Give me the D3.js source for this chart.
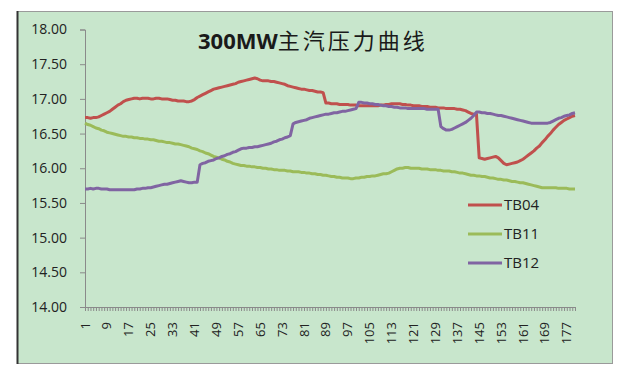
<!DOCTYPE html>
<html>
<head>
<meta charset="utf-8">
<script src="https://cdn.jsdelivr.net/npm/d3@7"></script>
<style>
    body { margin: 0; background: #fff; }
    svg { display: block; }
</style>
</head>
<body>
<div id="chart"></div>
<script>
    // category axis 1..180, labels every 8th
    const categories = d3.range(1, 181);
    const tickLabels = [1, 9, 17, 25, 33, 41, 49, 57, 65, 73, 81, 89, 97, 105, 113, 121, 129, 137, 145, 153, 161, 169, 177];
    const yTicks = [14, 14.5, 15, 15.5, 16, 16.5, 17, 17.5, 18];
    const seriesNames = ['TB04', 'TB11', 'TB12'];

    const tb04 = [
        16.73, 16.73, 16.72, 16.73, 16.73,
        16.74, 16.76, 16.78, 16.80, 16.82, 16.85, 16.88, 16.91, 16.93, 16.96, 16.98, 16.99,
        17.00, 17.01, 17.01, 17.00, 17.01, 17.01, 17.01, 17.00, 17.00, 17.01, 17.01, 17.00, 17.00, 17.00,
        16.99, 16.98, 16.98, 16.97, 16.97, 16.97, 16.96, 16.96, 16.97, 16.99,
        17.02, 17.04, 17.06, 17.08, 17.10, 17.12, 17.14,
        17.15, 17.16, 17.17, 17.18, 17.19, 17.20,
        17.21, 17.22, 17.24, 17.25, 17.26, 17.27, 17.28, 17.29, 17.30,
        17.29, 17.27, 17.26, 17.26, 17.26, 17.25, 17.25, 17.24, 17.23,
        17.22, 17.21, 17.19, 17.18, 17.17, 17.16, 17.15, 17.14, 17.14, 17.13, 17.12, 17.12, 17.11, 17.10, 17.10, 17.09,
        16.94, 16.94, 16.93, 16.93, 16.93, 16.92, 16.92, 16.92, 16.92, 16.91, 16.91, 16.91, 16.90, 16.90, 16.90, 16.90, 16.90, 16.90, 16.90, 16.90,
        16.91, 16.91, 16.92, 16.92, 16.93, 16.93, 16.93, 16.93, 16.92, 16.92, 16.91, 16.91, 16.90,
        16.90, 16.90, 16.89, 16.89, 16.89, 16.88, 16.88, 16.88, 16.87, 16.87, 16.87, 16.86, 16.86, 16.86, 16.86, 16.85, 16.85,
        16.84, 16.83, 16.81, 16.79, 16.78, 16.78,
        16.15, 16.14, 16.13, 16.14, 16.15, 16.16,
        16.17, 16.15, 16.11, 16.07, 16.05,
        16.06, 16.07, 16.08, 16.09, 16.11, 16.13, 16.16,
        16.19, 16.22, 16.25, 16.29, 16.32,
        16.37, 16.41, 16.46, 16.50, 16.55,
        16.59, 16.63, 16.66, 16.69, 16.71, 16.73, 16.75, 16.76
    ];

    const tb11 = [
        16.65, 16.63, 16.62, 16.60, 16.58, 16.57, 16.55, 16.54, 16.52, 16.51, 16.50, 16.49,
        16.48, 16.47, 16.46, 16.46, 16.45, 16.45, 16.44, 16.44, 16.43, 16.43, 16.42, 16.42,
        16.41, 16.41, 16.40, 16.39, 16.39, 16.38, 16.37, 16.37, 16.36, 16.35, 16.35, 16.34,
        16.33, 16.32, 16.31, 16.29, 16.28, 16.27, 16.25, 16.24, 16.22, 16.21, 16.19, 16.17,
        16.16, 16.15, 16.13, 16.12, 16.10, 16.09, 16.07, 16.06, 16.05, 16.04, 16.04, 16.03,
        16.03, 16.02, 16.02, 16.01, 16.01, 16.00, 16.00, 15.99, 15.99, 15.98, 15.98, 15.97,
        15.97, 15.97, 15.96, 15.96, 15.95, 15.95, 15.95, 15.94, 15.94, 15.93, 15.93, 15.92,
        15.92, 15.91, 15.91, 15.90, 15.90, 15.89, 15.88, 15.88, 15.87, 15.87, 15.86, 15.86,
        15.86, 15.85, 15.85, 15.86, 15.86, 15.87, 15.87, 15.88, 15.88, 15.89, 15.89, 15.90,
        15.91, 15.92, 15.92, 15.93, 15.95, 15.97, 15.99, 16.00, 16.00, 16.01, 16.01, 16.00,
        16.00, 16.00, 16.00, 15.99, 15.99, 15.99, 15.98, 15.98, 15.98, 15.97, 15.97, 15.96,
        15.96, 15.96, 15.95, 15.95, 15.94, 15.93, 15.93, 15.92, 15.91, 15.90, 15.90, 15.89,
        15.89, 15.88, 15.88, 15.87, 15.86, 15.86, 15.85, 15.84, 15.84, 15.83, 15.83, 15.82,
        15.81, 15.81, 15.80, 15.79, 15.79, 15.78, 15.77, 15.76, 15.75, 15.74, 15.73, 15.72,
        15.72, 15.72, 15.72, 15.72, 15.72, 15.71, 15.71, 15.71, 15.71, 15.70, 15.70, 15.70
    ];

    const tb12 = [
        15.70, 15.70, 15.71, 15.70, 15.71, 15.71, 15.70, 15.70, 15.70, 15.69, 15.69, 15.69,
        15.69, 15.69, 15.69, 15.69, 15.69, 15.69, 15.69, 15.70, 15.70, 15.71, 15.71, 15.72,
        15.72, 15.73, 15.74, 15.75, 15.76, 15.77, 15.77, 15.78, 15.79, 15.80, 15.81, 15.82,
        15.81, 15.80, 15.79, 15.79, 15.80, 15.80,
        16.05, 16.07, 16.08, 16.10, 16.11, 16.12,
        16.14, 16.15, 16.17, 16.18, 16.20, 16.21, 16.23, 16.24, 16.26, 16.28, 16.29, 16.29,
        16.30, 16.30, 16.31, 16.31, 16.32, 16.33, 16.34, 16.35, 16.36, 16.38, 16.39, 16.41,
        16.42, 16.44, 16.45, 16.47,
        16.64, 16.66, 16.67, 16.68, 16.69, 16.70, 16.72, 16.73, 16.74, 16.75, 16.76, 16.77,
        16.78, 16.78, 16.79, 16.80, 16.80, 16.81, 16.82, 16.82, 16.83, 16.84, 16.85, 16.86,
        16.95, 16.95, 16.94, 16.94, 16.93, 16.93, 16.92, 16.92, 16.91, 16.90, 16.90, 16.89,
        16.89, 16.88, 16.88, 16.87, 16.87, 16.87, 16.86, 16.86, 16.86, 16.86, 16.86, 16.86,
        16.86, 16.85, 16.85, 16.85, 16.85, 16.85,
        16.60, 16.57, 16.55, 16.55, 16.56, 16.58, 16.60, 16.62, 16.64, 16.66, 16.69, 16.72,
        16.76, 16.81, 16.81, 16.80, 16.80, 16.79, 16.79, 16.78, 16.77, 16.76, 16.76, 16.75,
        16.74, 16.73, 16.72, 16.71, 16.70, 16.69, 16.68, 16.67, 16.66, 16.65, 16.65, 16.65,
        16.65, 16.65, 16.65, 16.65, 16.66, 16.68, 16.70, 16.72, 16.73, 16.75, 16.76, 16.77, 16.79, 16.80
    ];

    const colors = ['#c0504d', '#9bbb59', '#8064a2'];
    const seriesValues = [tb04, tb11, tb12];

    const W = 626, H = 381;
    const plot = {left: 85, right: 575, top: 29.5, bottom: 307};
    const labelFont = '"Open Sans", "Liberation Sans", sans-serif';

    const svg = d3.select('#chart')
        .append('svg')
        .attr('width', W)
        .attr('height', H);

    svg.append('rect')
        .attr('width', W).attr('height', H)
        .attr('fill', '#fff');

    // chart area frame
    svg.append('rect')
        .attr('x', 17.5).attr('y', 11.5)
        .attr('width', 595).attr('height', 352)
        .attr('fill', '#c8e6cc')
        .attr('stroke', '#9a9a9a');
    svg.append('line')
        .attr('x1', 17.5).attr('x2', 17.5)
        .attr('y1', 11).attr('y2', 364)
        .attr('stroke', '#333')
        .attr('stroke-width', 2);

    const x = d3.scalePoint()
        .domain(categories)
        .range([plot.left, plot.right]);

    const y = d3.scaleLinear()
        .domain([14, 18])
        .range([plot.bottom, plot.top]);

    // y axis
    const yAxis = svg.append('g')
        .attr('transform', `translate(${plot.left},0)`)
        .call(d3.axisLeft(y)
            .tickValues(yTicks)
            .tickFormat(d3.format('.2f'))
            .tickSize(5)
            .tickPadding(13));
    yAxis.select('.domain').attr('stroke', '#8a8a8a');
    yAxis.selectAll('.tick line').attr('stroke', '#8a8a8a');
    yAxis.selectAll('.tick text')
        .attr('fill', '#222')
        .style('font-family', labelFont)
        .style('font-size', '14px');

    // x axis: a tick at every category, labels every 8th
    const xAxis = svg.append('g')
        .attr('transform', `translate(0,${plot.bottom})`)
        .call(d3.axisBottom(x)
            .tickSize(4)
            .tickSizeOuter(0)
            .tickFormat(''));
    xAxis.select('.domain').attr('stroke', '#8a8a8a');
    xAxis.selectAll('.tick line').attr('stroke', '#8a8a8a');

    svg.append('g')
        .selectAll('text')
        .data(tickLabels)
        .enter().append('text')
        .attr('transform', d => `translate(${x(d)},${plot.bottom + 15}) rotate(-90)`)
        .attr('text-anchor', 'end')
        .attr('dy', '.35em')
        .attr('fill', '#222')
        .style('font-family', labelFont)
        .style('font-size', '13px')
        .text(d => d);

    // series lines
    const line = d3.line()
        .x((d, i) => x(categories[i]))
        .y(d => y(d));

    svg.append('g')
        .selectAll('path')
        .data(seriesValues)
        .enter().append('path')
        .attr('d', d => line(d))
        .attr('fill', 'none')
        .attr('stroke', (d, i) => colors[i])
        .attr('stroke-width', 3)
        .attr('stroke-linejoin', 'round');

    // title
    const title = svg.append('text')
        .attr('x', 198)
        .attr('y', 49)
        .attr('fill', '#1a1a1a');
    title.append('tspan')
        .style('font-family', labelFont)
        .style('font-weight', 'bold')
        .style('font-size', '22px')
        .text('300MW');
    title.append('tspan')
        .style('font-family', '"Noto Sans CJK SC", sans-serif')
        .style('font-size', '22px')
        .style('letter-spacing', '3px')
        .text('主汽压力曲线');

    // legend
    const legend = svg.append('g')
        .selectAll('g')
        .data(seriesNames)
        .enter().append('g')
        .attr('transform', (d, i) => `translate(468,${205 + i * 29})`);

    legend.append('line')
        .attr('x1', 0).attr('x2', 34)
        .attr('stroke', (d, i) => colors[i])
        .attr('stroke-width', 3);

    legend.append('text')
        .attr('x', 36)
        .attr('dy', '.35em')
        .attr('fill', '#222')
        .style('font-family', labelFont)
        .style('font-size', '15px')
        .text(d => d);
</script>
</body>
</html>
